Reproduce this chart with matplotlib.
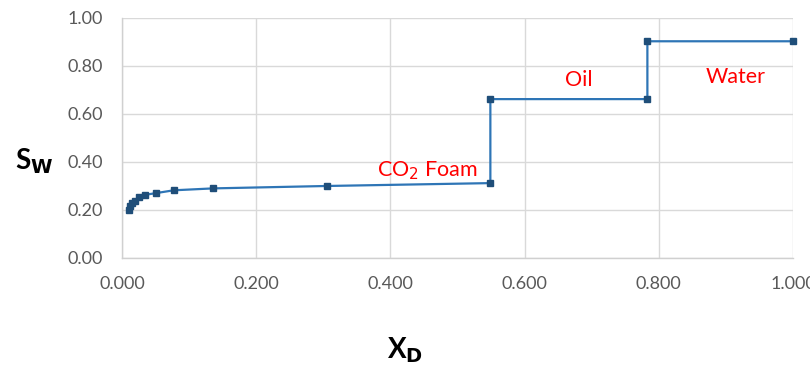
import matplotlib
matplotlib.use("Agg")
import matplotlib.pyplot as plt

plt.rcParams['font.family'] = ['Lato', 'DejaVu Sans']

# Water saturation profile vs dimensionless distance
x_d = [0.0104, 0.012, 0.015, 0.019, 0.025, 0.034, 0.050, 0.077, 0.136, 0.305,
       0.549, 0.549, 0.783, 0.783, 1.000]
s_w = [0.200, 0.215, 0.229, 0.238, 0.254, 0.263, 0.270, 0.282, 0.290, 0.300,
       0.312, 0.662, 0.662, 0.903, 0.903]

x_ticks = [0.0, 0.2, 0.4, 0.6, 0.8, 1.0]
y_ticks = [0.0, 0.2, 0.4, 0.6, 0.8, 1.0]

zone_labels = ["CO$_2$ Foam", "Oil", "Water"]
zone_pos = [(0.455, 0.365), (0.68, 0.74), (0.915, 0.755)]

fig = plt.figure(figsize=(8.1, 3.78), dpi=100)
ax = fig.add_axes([0.1506, 0.3175, 0.8284, 0.6349])

ax.plot(x_d, s_w, color='#2e75b6', lw=1.6, marker='s', markersize=4.5,
        markerfacecolor='#1f4e79', markeredgecolor='#1f4e79', zorder=3,
        clip_on=False)

ax.set_xlim(0, 1)
ax.set_ylim(0, 1)
ax.set_xticks(x_ticks)
ax.set_yticks(y_ticks)
ax.set_xticklabels([f"{v:.3f}" for v in x_ticks])
ax.set_yticklabels([f"{v:.2f}" for v in y_ticks])
ax.grid(True, color='#d9d9d9', lw=1.0)
ax.set_axisbelow(True)
for side in ['top', 'right']:
    ax.spines[side].set_visible(False)
for side in ['left', 'bottom']:
    ax.spines[side].set_color('#d0d0d0')
    ax.spines[side].set_linewidth(1.0)
ax.tick_params(length=0, labelsize=13, labelcolor='#595959')
ax.tick_params(axis='y', pad=14)
ax.tick_params(axis='x', pad=13)

for lab, (px, py) in zip(zone_labels, zone_pos):
    ax.text(px, py, lab, color='#ff0000', fontsize=15.5, ha='center', va='center')

fig.text(0.042, 0.575, r"S$_\mathbf{W}$", fontsize=20, fontweight='bold',
         ha='center', va='center')
fig.text(0.5, 0.075, r"X$_\mathbf{D}$", fontsize=20, fontweight='bold',
         ha='center', va='center')

fig.savefig("out.png", dpi=100)
